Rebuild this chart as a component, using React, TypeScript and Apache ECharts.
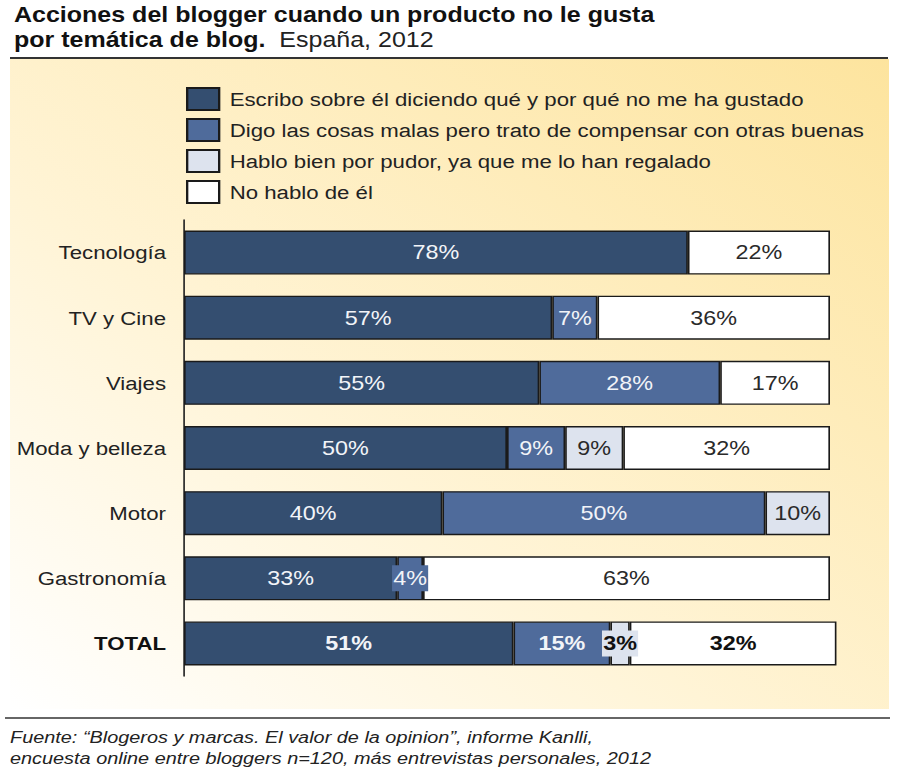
import React, { useEffect, useRef } from "react";
import * as echarts from "echarts";

const categories = ["Tecnología", "TV y Cine", "Viajes", "Moda y belleza", "Motor", "Gastronomía", "TOTAL"];
const seriesNames = [
  "Escribo sobre él diciendo qué y por qué no me ha gustado",
  "Digo las cosas malas pero trato de compensar con otras buenas",
  "Hablo bien por pudor, ya que me lo han regalado",
  "No hablo de él",
];
const escribo = [78, 57, 55, 50, 40, 33, 51];
const digo = [0, 7, 28, 9, 50, 4, 15];
const hablo = [0, 0, 0, 9, 10, 0, 3];
const noHablo = [22, 36, 17, 32, 0, 63, 32];

const colors = ["#344e70", "#4f6b9b", "#dde3ee", "#ffffff"];
const labelColors = ["#f2f4f8", "#f2f4f8", "#2a2a2a", "#2a2a2a"];

// the reference artwork is horizontally stretched; draw narrower and stretch
const W = 770;
const S = 900 / W;
const px = (x: number) => x / S;
const FONT = "Arial, 'Liberation Sans', sans-serif";

export default function App() {
  const ref = useRef<HTMLDivElement>(null);
  useEffect(() => {
    if (!ref.current) return;
    const chart = echarts.init(ref.current, null, { renderer: "svg" });
    const all = [escribo, digo, hablo, noHablo];
    const series = all.map((vals, si) => ({
      name: seriesNames[si],
      type: "bar",
      stack: "total",
      barWidth: 44,
      clip: false,
      itemStyle: { color: colors[si], borderColor: "#1a1a1a", borderWidth: 1.4 },
      label: {
        show: true,
        position: "inside",
        color: labelColors[si],
        fontSize: 20,
        fontFamily: FONT,
        formatter: "{c}%",
      },
      data: vals.map((v, i) => {
        if (!v) return "-";
        const isTotal = categories[i] === "TOTAL";
        const label: any = {};
        if (isTotal) {
          label.fontWeight = "bold";
          if (si >= 2) label.color = "#111";
        }
        if (v <= 4) {
          label.backgroundColor = colors[si];
          label.padding = [3, 1];
        }
        return { value: v, label };
      }),
    }));

    chart.setOption({
      animation: false,
      legend: {
        orient: "vertical",
        left: px(186),
        top: 87,
        padding: 0,
        itemWidth: px(32),
        itemHeight: 22,
        itemGap: 7,
        icon: "rect",
        textStyle: {
          fontSize: 19,
          lineHeight: 21,
          color: "#222",
          fontFamily: FONT,
          padding: [0, 0, 0, 4],
        },
        data: seriesNames,
      },
      grid: { left: px(184), top: 220, width: px(646), height: 456 },
      xAxis: { type: "value", min: 0, max: 100, show: false, splitLine: { show: false } },
      yAxis: {
        type: "category",
        inverse: true,
        data: categories,
        axisTick: { show: false },
        axisLine: { lineStyle: { color: "#222", width: 1.4 } },
        axisLabel: {
          margin: px(18),
          fontSize: 19,
          color: "#222",
          fontFamily: FONT,
          formatter: (v: string) => (v === "TOTAL" ? "{b|" + v + "}" : v),
          rich: { b: { fontWeight: "bold", fontSize: 19, color: "#111", fontFamily: FONT } },
        },
      },
      graphic: [
        {
          type: "rect",
          z: -10,
          silent: true,
          shape: { x: px(10), y: 59, width: px(879), height: 650 },
          style: {
            fill: new echarts.graphic.LinearGradient(0, 1, 1, 0, [
              { offset: 0, color: "#ffffff" },
              { offset: 0.4, color: "#fff4d6" },
              { offset: 1, color: "#fde49e" },
            ]),
          },
        },
        {
          type: "line",
          z: 10,
          shape: { x1: px(10), y1: 58, x2: px(888), y2: 58 },
          style: { stroke: "#333", lineWidth: 2 },
        },
        {
          type: "line",
          z: 10,
          shape: { x1: px(5), y1: 718, x2: px(890), y2: 718 },
          style: { stroke: "#333", lineWidth: 1.5 },
        },
        {
          type: "text",
          z: 10,
          left: px(14),
          top: 4,
          style: {
            text: "{b|Acciones del blogger cuando un producto no le gusta}\n{b|por temática de blog.}{n|  España, 2012}",
            fill: "#111",
            rich: {
              b: { fontSize: 21.4, fontWeight: "bold", fontFamily: FONT, lineHeight: 25, fill: "#111" },
              n: { fontSize: 21.4, fontFamily: FONT, lineHeight: 25, fill: "#222" },
            },
          },
        },
        {
          type: "text",
          z: 10,
          left: px(10),
          top: 727,
          style: {
            text: "Fuente: “Blogeros y marcas. El valor de la opinion”, informe Kanlli,\nencuesta online entre bloggers n=120, más entrevistas personales, 2012",
            fill: "#222",
            fontSize: 17,
            fontStyle: "italic",
            fontFamily: FONT,
            lineHeight: 21,
          },
        },
      ],
      series,
    });
    return () => chart.dispose();
  }, []);
  return (
    <div
      ref={ref}
      style={{
        position: "absolute",
        left: 0,
        top: 0,
        width: W,
        height: 768,
        transform: `scaleX(${S})`,
        transformOrigin: "0 0",
      }}
    />
  );
}
